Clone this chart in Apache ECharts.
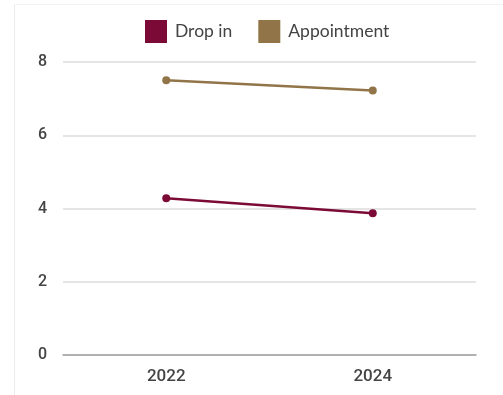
<!DOCTYPE html>
<html>
<head>
<meta charset="utf-8">
<script src="https://cdn.jsdelivr.net/npm/echarts@6/dist/echarts.min.js"></script>
<style>
  html, body { margin: 0; padding: 0; background: #fff; }
  #chart { width: 503px; height: 395px; }
</style>
</head>
<body>
<div id="chart"></div>
<script>
// Visit counts by year and visit type
const years = ['2022', '2024'];
const dropIn = [4.28, 3.87];
const appointment = [7.5, 7.22];
const yTicks = [0, 2, 4, 6, 8];

const textColor = '#444444';
const chart = echarts.init(document.getElementById('chart'), null, { renderer: 'canvas' });

chart.setOption({
  animation: false,
  backgroundColor: '#ffffff',
  color: ['#7c0a36', '#917448'],
  graphic: [
    // light panel frame
    { type: 'line', shape: { x1: 14.5, y1: 4.5, x2: 14.5, y2: 395 }, style: { stroke: '#ececec', lineWidth: 1 } },
    { type: 'line', shape: { x1: 14.5, y1: 4.5, x2: 503, y2: 4.5 }, style: { stroke: '#f2f2f2', lineWidth: 1 } }
  ],
  legend: {
    top: 15,
    left: 140,
    itemWidth: 22,
    itemHeight: 23,
    itemGap: 26,
    icon: 'rect',
    textStyle: { color: textColor, fontFamily: 'Lato', fontSize: 17.5, padding: [0, 0, 0, 3] },
    data: ['Drop in', 'Appointment']
  },
  grid: { left: 63, right: 27, top: 62, bottom: 40, containLabel: false },
  xAxis: {
    type: 'category',
    data: years,
    boundaryGap: true,
    axisLine: { show: true, lineStyle: { color: '#9e9e9e', width: 1.5 } },
    axisTick: { show: false },
    axisLabel: { color: textColor, fontFamily: 'Roboto', fontSize: 17, fontWeight: 500, margin: 13 }
  },
  yAxis: {
    type: 'value',
    min: yTicks[0],
    max: yTicks[yTicks.length - 1],
    interval: 2,
    axisLine: { show: false },
    axisTick: { show: false },
    axisLabel: { color: textColor, fontFamily: 'Roboto', fontSize: 16, fontWeight: 500, margin: 16 },
    splitLine: { lineStyle: { color: '#dcdcdc', width: 1.5 } }
  },
  series: [
    {
      name: 'Drop in',
      type: 'line',
      data: dropIn,
      symbol: 'circle',
      symbolSize: 8,
      lineStyle: { width: 2.5 }
    },
    {
      name: 'Appointment',
      type: 'line',
      data: appointment,
      symbol: 'circle',
      symbolSize: 8,
      lineStyle: { width: 2.5 }
    }
  ]
});
</script>
</body>
</html>
